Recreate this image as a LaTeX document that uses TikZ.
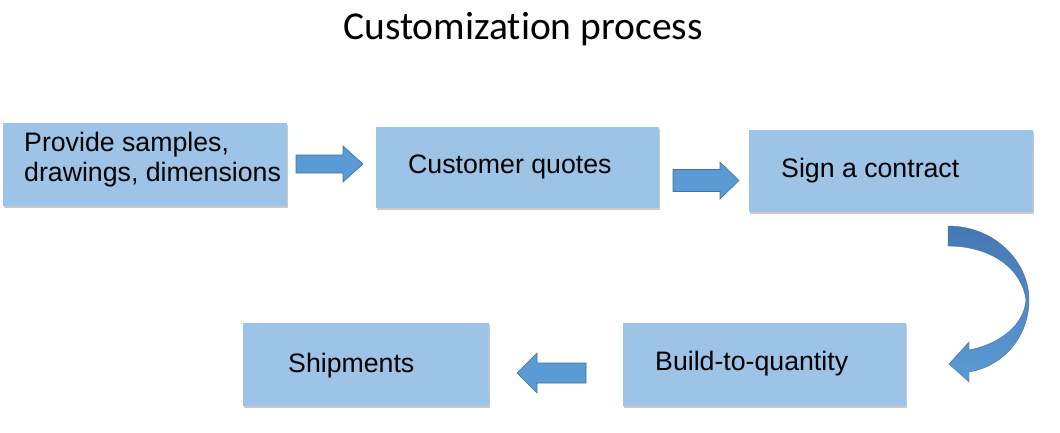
\documentclass[tikz,border=0pt]{standalone}
\usepackage{fontspec}
\setmainfont{Liberation Sans}
\newfontfamily\titlefont[Ligatures={NoCommon,NoRequired}]{Carlito}
\usepackage{tikz}
\usetikzlibrary{calc, positioning, shadows}
\definecolor{boxblue}{HTML}{9DC3E6}
\definecolor{arrowblue}{HTML}{5B9BD5}
\definecolor{arrowdark}{HTML}{4677B4}
\definecolor{arrowline}{HTML}{41719C}
\tikzset{
  stepbox/.style={rectangle, fill=boxblue, inner sep=0pt,
    drop shadow={shadow xshift=1.2pt, shadow yshift=-2pt, opacity=.35, fill=black!60}},
  boxtext/.style={inner sep=0pt, font=\fontsize{26.7}{30}\selectfont, align=left},
  flowarrow/.style={fill=arrowblue, draw=arrowline, line width=0.6pt, line join=miter}
}
\begin{document}
\begin{tikzpicture}[>=latex, x=1pt, y=-1pt]
\useasboundingbox (0,0) rectangle (1060,432);
\node[font=\titlefont\fontsize{39.5}{44}\selectfont, anchor=base] (title) at (523,39) {Customization process};

\node[stepbox, minimum width=284pt, minimum height=83pt] (samples) at (145,164.5) {};
\node[stepbox, minimum width=283pt, minimum height=81pt] (quotes) at (517.5,167.5) {};
\node[stepbox, minimum width=284pt, minimum height=82pt] (contract) at (891,171) {};
\node[stepbox, minimum width=283pt, minimum height=83pt] (build) at (764.5,364.5) {};
\node[stepbox, minimum width=246pt, minimum height=83pt] (ship) at (366,364.5) {};

\node[boxtext, anchor=west] (samplestext) at (24,160) {Provide samples,\\drawings, dimensions};
\node[boxtext, anchor=base west] (quotestext) at (408,173) {Customer quotes};
\node[boxtext, anchor=base west] (contracttext) at (781,177) {Sign a contract};
\node[boxtext, anchor=base west] (buildtext) at (655,370) {Build-to-quantity};
\node[boxtext, anchor=base west] (shiptext) at (288,372) {Shipments};

\draw[flowarrow, shift={(296,164)}] (0,-9) -- (47,-9) -- (47,-18) -- (67,0) -- (47,18) -- (47,9) -- (0,9) -- cycle;
\draw[flowarrow, shift={(673,180.5)}] (0,-11) -- (47,-11) -- (47,-18.5) -- (66,0) -- (47,18.5) -- (47,11) -- (0,11) -- cycle;
\draw[flowarrow, shift={(586,373)}] (0,-10) -- (-49,-10) -- (-49,-20) -- (-69,0) -- (-49,20) -- (-49,10) -- (0,10) -- cycle;

\draw[draw=arrowline, line width=0.4pt, top color=arrowdark, bottom color=arrowblue]
  (948,226) .. controls (995,226) and (1029,262) .. (1029,300)
  .. controls (1029,335) and (1005,366) .. (969,372)
  -- (969,382) -- (949,364) -- (969,342) -- (969,350)
  .. controls (1000,344) and (1024,325) .. (1026,300)
  .. controls (1022,268) and (990,246) .. (948,246) -- cycle;
\end{tikzpicture}
\end{document}
